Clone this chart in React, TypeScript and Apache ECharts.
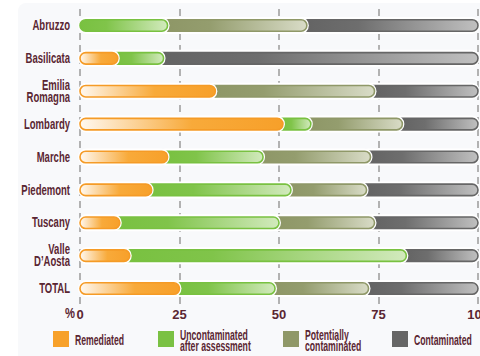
import React, { useEffect, useRef } from "react";
import * as echarts from "echarts";

const regions = ["Abruzzo", "Basilicata", "Emilia\nRomagna", "Lombardy", "Marche", "Piedemont", "Tuscany", "Valle\nD\u2019Aosta", "TOTAL"];
const remediated = [0, 9.5, 34, 51, 22, 18, 10, 12.5, 25];
const uncontaminated = [22, 11.5, 0, 7, 24, 35, 40, 69.5, 24];
const potentially = [35, 0, 40, 23, 27, 19, 24, 0, 23.5];
const contaminated = [43, 79, 26, 19, 27, 28, 26, 18, 27.5];
const xTicks = [0, 25, 50, 75, 100];

const legendNames = ["Remediated", "Uncontaminated\nafter assessment", "Potentially\ncontaminated", "Contaminated"];

const TEXT = "#5a2632";
const FONT = "'Liberation Sans', Arial, sans-serif";

const palettes = [
  { border: "#f59b26", solid: "#f7a12a", stops: [[0, "#fff9f1"], [0.55, "#f8aa3a"], [1, "#f7a02a"]] },
  { border: "#79c141", solid: "#7ac143", stops: [[0, "#79c141"], [0.3, "#80c44a"], [1, "#d2eabd"]] },
  { border: "#8f9868", solid: "#8f9868", stops: [[0, "#8e9767"], [0.3, "#949d6e"], [1, "#d9dcc7"]] },
  { border: "#666666", solid: "#666666", stops: [[0, "#646464"], [0.3, "#6e6e6e"], [1, "#c0c0c0"]] },
];

export default function App() {
  const ref = useRef<HTMLDivElement>(null);
  useEffect(() => {
    document.body.style.margin = "0";
    const chart = echarts.init(ref.current!, null, { renderer: "svg" });
    const groups = [remediated, uncontaminated, potentially, contaminated];
    const cum = regions.map(() => 0);
    const seriesData = groups.map((vals) =>
      vals.map((v, i) => {
        const s = cum[i];
        cum[i] += v;
        return [s, s + v, i];
      })
    );
    const series = seriesData.map((data, gi) => ({
      type: "custom",
      name: legendNames[gi],
      z: 10 - gi,
      data,
      encode: { x: [0, 1], y: 2 },
      renderItem: (params: any, api: any) => {
        const s = api.value(0);
        const e = api.value(1);
        const row = api.value(2);
        if (e - s <= 0.001) return null;
        const p0 = api.coord([s, row]);
        const p1 = api.coord([e, row]);
        const y = p0[1];
        const segStart = p0[0];
        const x0 = s > 0 ? segStart - 9 : segStart;
        const x1 = p1[0];
        const pal = palettes[gi];
        const grad = new echarts.graphic.LinearGradient(
          segStart, 0, x1, 0,
          pal.stops.map(([o, c]) => ({ offset: o as number, color: c as string })),
          true
        );
        return {
          type: "group",
          children: [
            {
              type: "rect",
              shape: { x: x0 - 2, y: y - 8.5, width: x1 - x0 + 4, height: 17, r: 8.5 },
              style: { fill: "#ffffff" },
            },
            {
              type: "rect",
              shape: { x: x0, y: y - 5.75, width: x1 - x0, height: 11.5, r: 5.75 },
              style: { fill: grad, stroke: pal.border, lineWidth: 1.6 },
            },
          ],
        };
      },
    }));

    const legendX = [53, 158, 283, 392];
    const legendGraphics: any[] = [];
    legendNames.forEach((n, i) => {
      legendGraphics.push({
        type: "rect",
        shape: { x: legendX[i], y: 331, width: 16, height: 16 },
        style: { fill: palettes[i].solid },
      });
      legendGraphics.push({
        type: "text",
        x: legendX[i] + 22,
        y: 340,
        scaleX: 0.62,
        style: {
          text: n,
          fill: TEXT,
          font: `bold 14px ${FONT}`,
          lineHeight: 11,
          verticalAlign: "middle",
          align: "left",
        },
      });
    });

    const baseGraphics: any[] = [
      {
        type: "rect",
        z: -10,
        silent: true,
        shape: { x: 18, y: 3, width: 520, height: 420, r: 8 },
        style: { fill: "#f8f9fb" },
      },
      {
        type: "text",
        x: 75,
        y: 314,
        scaleX: 0.8,
        style: { text: "%", fill: TEXT, font: `bold 14px ${FONT}`, align: "right", verticalAlign: "middle" },
      },
      ...legendGraphics,
    ];

    chart.setOption({
      animation: false,
      grid: { left: 80, right: 2, top: 9, height: 296, outerBoundsMode: "none", containLabel: false },
      xAxis: {
        type: "value",
        min: 0,
        max: 100,
        interval: 25,
        axisLine: { show: false },
        axisTick: { show: false },
        axisLabel: {
          color: TEXT,
          fontWeight: "bold",
          fontFamily: FONT,
          fontSize: 13,
          margin: 3,
          hideOverlap: false,
          formatter: (v: number) => (xTicks.includes(v) ? String(v) : ""),
        },
        splitLine: { show: true, lineStyle: { color: "#9a9a9a", width: 1.5, type: [7, 5] } },
      },
      yAxis: {
        type: "category",
        inverse: true,
        data: regions,
        axisLine: { show: false },
        axisTick: { show: false },
        axisLabel: { show: false },
        splitLine: { show: false },
      },
      graphic: baseGraphics,
      series,
    });

    const labelGraphics = regions.map((name, i) => {
      const py = chart.convertToPixel({ yAxisIndex: 0 }, i) as number;
      return {
        type: "text",
        x: 70,
        y: py,
        scaleX: 0.68,
        style: {
          text: name,
          fill: TEXT,
          font: `bold 14px ${FONT}`,
          lineHeight: 12,
          align: "right",
          verticalAlign: "middle",
        },
      };
    });
    chart.setOption({ graphic: [...baseGraphics, ...labelGraphics] });

    return () => chart.dispose();
  }, []);
  return <div ref={ref} style={{ width: 480, height: 356 }} />;
}
